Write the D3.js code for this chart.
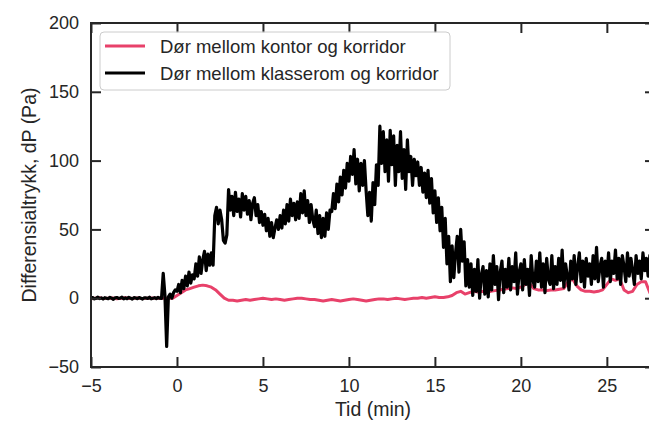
<!DOCTYPE html>
<html><head><meta charset="utf-8">
<script src="https://cdn.jsdelivr.net/npm/d3@7"></script>
<style>body{margin:0;background:#fff}svg{display:block;font-family:"Liberation Sans",Arial,sans-serif}</style>
</head><body><svg id="c" width="649" height="421"></svg>
<script>
// ---- data ----
const seriesNames = ["Dør mellom kontor og korridor", "Dør mellom klasserom og korridor"];
const xTicks = [-5, 0, 5, 10, 15, 20, 25];
const yTicks = [-50, 0, 50, 100, 150, 200];
// black series: sampled every 0.1 min starting at -5
const classroomStart = -5, classroomStep = 0.1;
const classroomValues = [
  0,0.5,-0.5,0,0.8,-0.3,0.2,-0.6,0.4,0,
  -0.4,0.6,0,-0.8,0.3,0.5,-0.2,0,0.7,-0.5,
  0.2,-0.4,0.6,0,-0.7,0.4,0.1,-0.3,0.5,0,
  -0.6,0.3,0.2,-0.2,0.7,-0.5,0,0.4,-0.3,0.6,
  0,-0.2,18,2,-35,1,3,0,4,6,
  5,10,4,13,7,16,9,19,11,17,
  14,25,16,30,18,28,34,20,32,24,
  33,24,60,66,54,64,57,42,40,46,
  79,64,74,60,77,63,72,59,76,64,
  74,61,71,57,69,73,60,68,55,63,
  53,61,49,58,45,55,44,51,57,50,
  60,51,64,54,68,56,72,60,69,57,
  70,58,76,62,78,60,71,55,68,57,
  52,64,47,60,44,58,45,62,50,64,
  63,76,65,83,70,88,75,93,80,98,
  85,103,90,108,83,101,78,98,82,100,
  78,60,77,56,84,68,97,82,125,98,
  121,92,115,85,122,97,118,82,111,92,
  121,87,108,79,115,92,103,82,101,89,
  99,82,95,77,91,73,93,69,87,62,
  78,55,73,49,66,37,58,25,45,12,
  38,15,33,45,19,50,27,41,9,28,
  8,25,2,21,5,28,0,17,23,3,
  20,1,25,6,31,10,23,-1,19,27,
  4,21,8,29,6,23,12,33,3,19,
  25,6,28,10,21,2,31,13,8,27,
  12,33,8,25,4,29,14,10,31,7,
  23,10,29,13,35,8,25,16,6,27,
  14,31,10,23,33,12,27,8,29,16,
  25,10,31,14,37,12,23,29,8,27,
  16,33,12,27,18,35,14,29,10,31,
  23,12,33,16,29,20,10,31,18,27,
  14,33,20,29,16,31,18,27,22,26
];
// red series: sampled every 0.25 min starting at -5
const officeStart = -5, officeStep = 0.25;
const officeValues = [
  -0.5,0,0.3,-0.3,0,0.2,-0.4,0,0.3,-0.2,0,0.2,-0.3,0,0.2,0,
  0,0.2,-0.3,0,
  2,4,6,7,
  8,9,9.5,9,
  8,6,3,0,
  -1.5,-1.5,-2,-1.5,
  -1,-1.5,-1,-0.5,0,-0.5,-1,-0.5,
  -1,-1.5,-1,-0.5,0,0,-0.5,-1,
  -1,-1.5,-2,-1.5,-1,-1.5,-2,-1.5,
  -1,-0.5,-1,-1.5,-2,-1.5,-1,-0.5,
  -0.5,-1,-0.5,0,-0.5,-1,-0.5,0,
  0,0.5,0,0.5,1,0.5,0.5,1,
  2,4,5,3,4,5,4.5,5,
  4,5,5.5,6,6.5,7,7.5,7,
  8,10,11,7,6,6,5.5,6,
  6,6.5,7,12,14,9,6,5,
  5,4.5,5,6,10,14,13,14,
  6,4,5,10,12,12,4,2
];
const xLabel = "Tid (min)";
const yLabel = "Differensialtrykk, dP (Pa)";
const colors = ["#e8416a", "#000000"];

// ---- layout ----
const svg = d3.select("#c");
const L = 91, R = 655, T = 23, B = 367;
const x = d3.scaleLinear().domain([-5, 27.8]).range([L, R]);
const y = d3.scaleLinear().domain([-50, 200]).range([B, T]);

const office = officeValues.map((v, i) => [officeStart + i * officeStep, v]);
const classroom = classroomValues.map((v, i) => [classroomStart + i * classroomStep, v]);

svg.append("defs").append("clipPath").attr("id", "clip")
  .append("rect").attr("x", L).attr("y", T).attr("width", R - L).attr("height", B - T);

const line = d3.line().x(d => x(d[0])).y(d => y(d[1]));
const g = svg.append("g").attr("clip-path", "url(#clip)");
g.append("path").datum(office).attr("d", line).attr("fill", "none")
  .attr("stroke", colors[0]).attr("stroke-width", 3).attr("stroke-linejoin", "round");
g.append("path").datum(classroom).attr("d", line).attr("fill", "none")
  .attr("stroke", colors[1]).attr("stroke-width", 3.2).attr("stroke-linejoin", "round");

// axes
const axisColor = "#262626";
function styleAxis(sel) {
  sel.select(".domain").remove();
  sel.selectAll(".tick line").attr("stroke", axisColor).attr("stroke-width", 2);
  sel.selectAll(".tick text").attr("fill", "#262626").attr("font-size", 18)
    .attr("font-family", "'Liberation Sans', Arial, sans-serif");
}
svg.append("g").attr("transform", `translate(0,${B})`)
  .call(d3.axisBottom(x).tickValues(xTicks).tickSize(-10).tickPadding(12).tickFormat(d => d < 0 ? "\u2212" + Math.abs(d) : d))
  .call(styleAxis);
svg.append("g").attr("transform", `translate(0,${T})`)
  .call(d3.axisTop(x).tickValues(xTicks).tickSize(-10).tickFormat(""))
  .call(styleAxis);
svg.append("g").attr("transform", `translate(${L},0)`)
  .call(d3.axisLeft(y).tickValues(yTicks).tickSize(-10).tickPadding(12).tickFormat(d => d < 0 ? "\u2212" + Math.abs(d) : d))
  .call(styleAxis);
svg.append("g").attr("transform", `translate(${R},0)`)
  .call(d3.axisRight(y).tickValues(yTicks).tickSize(-10).tickFormat(""))
  .call(styleAxis);

svg.append("rect").attr("x", L).attr("y", T).attr("width", R - L).attr("height", B - T)
  .attr("fill", "none").attr("stroke", axisColor).attr("stroke-width", 2);

// labels
svg.append("text").attr("x", (L + R) / 2).attr("y", 416).attr("text-anchor", "middle")
  .attr("font-size", 19.5).attr("fill", "#262626").text(xLabel);
svg.append("text").attr("transform", `translate(36,${(T + B) / 2}) rotate(-90)`)
  .attr("text-anchor", "middle").attr("font-size", 19.5).attr("fill", "#262626").text(yLabel);

// legend
const lg = svg.append("g");
lg.append("rect").attr("x", 100).attr("y", 32).attr("width", 350).attr("height", 58).attr("rx", 4)
  .attr("fill", "rgba(255,255,255,0.8)").attr("stroke", "#cccccc").attr("stroke-width", 1);
seriesNames.forEach((n, i) => {
  const yy = 46 + i * 27;
  lg.append("line").attr("x1", 105).attr("x2", 145).attr("y1", yy).attr("y2", yy)
    .attr("stroke", colors[i]).attr("stroke-width", 3);
  lg.append("text").attr("x", 160).attr("y", yy + 6.5).attr("font-size", 18.5).attr("fill", "#262626").text(n);
});
</script></body></html>
